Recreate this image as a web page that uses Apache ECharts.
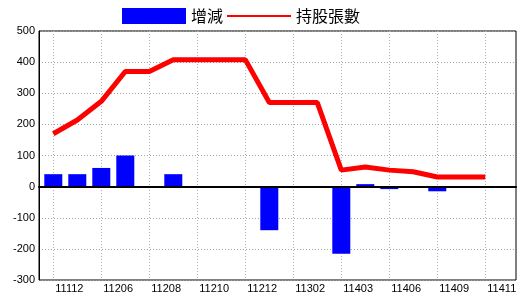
<!DOCTYPE html>
<html>
<head>
<meta charset="utf-8">
<script src="https://cdn.jsdelivr.net/npm/echarts@6/dist/echarts.min.js"></script>
<style>html,body{margin:0;padding:0;background:#fff}#c{width:520px;height:300px}</style>
</head>
<body>
<div id="c"></div>
<script>
var categories = ['11112','11203','11206','11207','11208','11209','11210','11211','11212','11301','11302','11312','11403','11405','11406','11408','11409','11410','11411'];
var changeValues = [40, 40, 60, 100, 0, 40, 0, 0, 0, -140, 0, 0, -216, 8, -8, 0, -15, 0, 0];
var holdingValues = [170, 214, 274, 370, 370, 408, 408, 408, 408, 270, 270, 270, 53, 63, 53, 48, 31, 31, 31];
var yTicks = {min: -300, max: 500, interval: 100};
var seriesNames = ['增減', '持股張數'];

var chart = echarts.init(document.getElementById('c'));
var font = 'Liberation Sans';
chart.setOption({
  animation: false,
  backgroundColor: '#fff',
  legend: {
    left: 122, top: 8, padding: 0, itemWidth: 64, itemHeight: 16, itemGap: 4,
    textStyle: {fontFamily: 'Noto Sans CJK TC', fontSize: 16, color: '#000'},
    data: [
      {name: seriesNames[0], icon: 'rect'},
      {name: seriesNames[1], icon: 'path://M0,0L0,0M0,7H64V9H0ZM64,16L64,16', itemStyle: {color: '#ff0000'}}
    ]
  },
  grid: [
    {left: 39, right: 4, top: 31, bottom: 20, show: true, borderColor: '#000', borderWidth: 1, backgroundColor: 'transparent'},
    {left: 53.3, right: 34.7, top: 31, bottom: 20}
  ],
  xAxis: [
    {gridIndex: 0, type: 'value', min: 0, max: 1, z: 10,
     axisLine: {show: true, onZero: true, lineStyle: {color: '#000', width: 2}},
     axisTick: {show: false}, axisLabel: {show: false}, splitLine: {show: false}},
    {gridIndex: 1, type: 'category', data: categories, boundaryGap: false, position: 'bottom',
     axisLine: {show: false, onZero: false}, axisTick: {show: false},
     axisLabel: {interval: 1, margin: 3, align: 'left', padding: [0, 0, 0, 2], color: '#000', fontFamily: font, fontSize: 11},
     splitLine: {show: true, interval: 1, lineStyle: {color: '#a8b8c8', type: [1, 2], width: 1}}}
  ],
  yAxis: [
    {gridIndex: 0, type: 'value', min: yTicks.min, max: yTicks.max, interval: yTicks.interval,
     axisLine: {show: true, lineStyle: {color: '#000', width: 1}}, axisTick: {show: false},
     axisLabel: {margin: 4, color: '#000', fontFamily: font, fontSize: 11},
     splitLine: {show: true, lineStyle: {color: '#a0a0a0', type: [1, 2], width: 1}}},
    {gridIndex: 1, type: 'value', min: yTicks.min, max: yTicks.max, interval: yTicks.interval, show: false,
     splitLine: {show: false}}
  ],
  series: [
    {name: seriesNames[0], type: 'bar', xAxisIndex: 1, yAxisIndex: 1, data: changeValues,
     barWidth: 18, clip: false, itemStyle: {color: '#0000ff'}},
    {name: seriesNames[1], type: 'line', xAxisIndex: 1, yAxisIndex: 1, data: holdingValues,
     symbol: 'none', clip: false, z: 5, lineStyle: {color: '#ff0000', width: 5}, itemStyle: {color: '#ff0000'}}
  ]
});
</script>
</body>
</html>
